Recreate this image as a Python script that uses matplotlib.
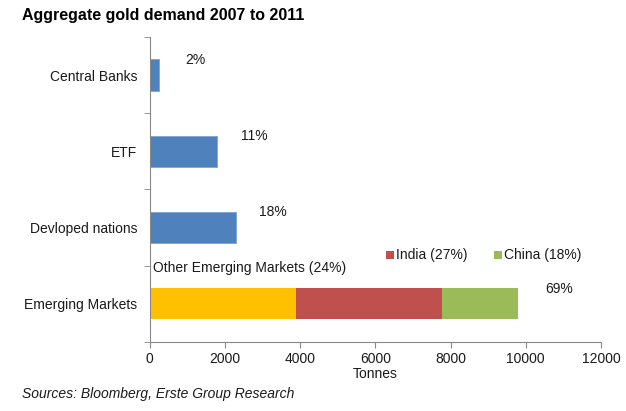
import numpy as np
import matplotlib.pyplot as plt

plt.rcParams['font.family'] = ['Liberation Sans', 'DejaVu Sans']

# Data (tonnes)
categories = ['Emerging Markets', 'Devloped nations', 'ETF', 'Central Banks']
single_vals = [None, 2300, 1800, 260]
share_labels = ['69%', '18%', '11%', '2%']
em_parts = ['Other Emerging Markets (24%)', 'India (27%)', 'China (18%)']
em_vals = [3900, 3870, 2030]

BLUE = '#4F81BD'
EM_COLS = ['#FFC000', '#C0504D', '#9BBB59']
AXC = '#888888'
TXT = '#1a1a1a'
FS = 10

fig = plt.figure(figsize=(6.26, 4.11), dpi=100)
ax = fig.add_axes([0.239, 0.168, 0.721, 0.742])

y = np.arange(len(categories))
h = 0.41

# single bars
for yi, v in zip(y, single_vals):
    if v is not None:
        ax.barh(yi, v, height=h, color=BLUE, edgecolor='#7FA3D3', lw=0.6)

# stacked emerging markets bar
left = 0
for name, v, c in zip(em_parts, em_vals, EM_COLS):
    ax.barh(0, v, left=left, height=h, color=c, lw=0, label=name)
    left += v

# share labels
totals = [sum(em_vals)] + single_vals[1:]
offs = [720, 600, 620, 700]
for yi, t, lab, o in zip(y, totals, share_labels, offs):
    ax.text(t + o, yi + 0.20, lab, ha='left', va='center', fontsize=FS, color=TXT)

# legend-like labels
ax.text(100, 0.47, em_parts[0], ha='left', va='center', fontsize=FS, color=TXT)
for xpos, name, c in [(6380, em_parts[1], EM_COLS[1]), (9250, em_parts[2], EM_COLS[2])]:
    ax.scatter([xpos], [0.64], marker='s', s=40, color=c, lw=0, zorder=3, clip_on=False)
    ax.text(xpos + 180, 0.64, name, ha='left', va='center', fontsize=FS, color=TXT)

ax.set_xlim(0, 12000)
ax.set_ylim(-0.5, 3.5)
ax.set_xticks(np.arange(0, 12001, 2000))
ax.set_yticks(y)
ax.set_yticklabels(categories, fontsize=FS, color=TXT)
ax.set_yticks(np.arange(-0.5, 3.6, 1), minor=True)
ax.tick_params(axis='y', which='major', length=0, pad=9)
ax.tick_params(axis='y', which='minor', length=4, color=AXC, direction='out')
ax.tick_params(axis='x', length=4, color=AXC, labelsize=FS, labelcolor=TXT, pad=3)
ax.set_xlabel('Tonnes', fontsize=FS, labelpad=1, color=TXT)

for s in ['top', 'right']:
    ax.spines[s].set_visible(False)
for s in ['left', 'bottom']:
    ax.spines[s].set_color(AXC)

fig.text(0.035, 0.962, 'Aggregate gold demand 2007 to 2011', fontsize=11.5,
         fontweight='bold', ha='left', va='center')
fig.text(0.035, 0.041, 'Sources: Bloomberg, Erste Group Research', fontsize=FS,
         style='italic', ha='left', va='center', color=TXT)

fig.savefig('out.png', dpi=100)
